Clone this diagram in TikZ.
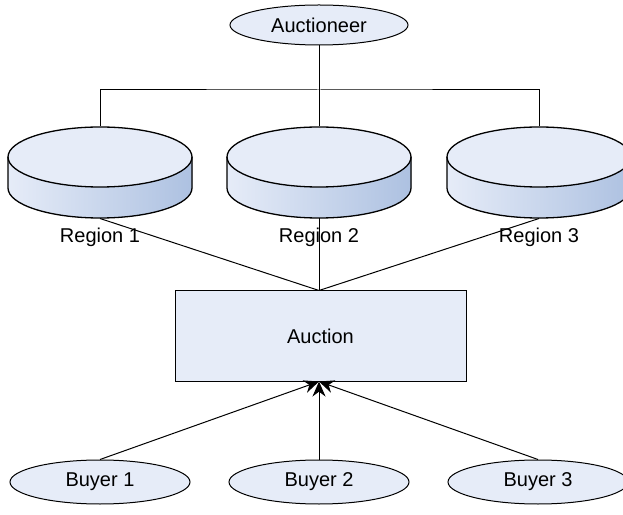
\documentclass[tikz,border=0pt]{standalone}
\usepackage{fontspec}
\setmainfont{Liberation Sans}
\usetikzlibrary{arrows.meta,shapes.geometric}
\definecolor{paleblue}{HTML}{E6ECF8}
\definecolor{sideblue}{HTML}{ADC1E1}
\begin{document}
\begin{tikzpicture}[x=1pt,y=1pt,line width=1pt,
  party/.style={ellipse, draw, fill=paleblue, inner sep=0, minimum width=180, minimum height=44, font=\fontsize{20}{24}\selectfont},
  regbox/.style={rectangle, inner sep=0, minimum width=184, minimum height=91},
  reglabel/.style={inner sep=0, font=\fontsize{20}{24}\selectfont},
  auctbox/.style={rectangle, draw, fill=paleblue, minimum width=291, minimum height=90, font=\fontsize{20}{24}\selectfont},
  bid/.style={-{Stealth[length=15pt,width=13pt]}}]
\useasboundingbox (0,0) rectangle (623,514);
% top of the tree
\node[party, minimum width=178, minimum height=40] (auct) at (319,489) {Auctioneer};
% regions as disks
\foreach \c/\i in {100/1,319/2,539/3}{
  \fill[left color=paleblue, right color=sideblue] (\c-92,357) -- (\c-92,326)
    arc[start angle=180, end angle=360, x radius=92, y radius=30] -- (\c+92,357)
    arc[start angle=360, end angle=180, x radius=92, y radius=30] -- cycle;
  \fill[paleblue] (\c,357) ellipse[x radius=92, y radius=30];
  \draw[line width=1.3pt] (\c-92,357) -- (\c-92,326)
    arc[start angle=180, end angle=360, x radius=92, y radius=30] -- (\c+92,357);
  \draw[line width=1.3pt] (\c,357) ellipse[x radius=92, y radius=30];
  \node[regbox] (reg\i) at (\c,341.5) {};
  \node[reglabel] (lab\i) at (\c,277) {Region \i};
}
\node[auctbox] (auction) at (320.5,178) {Auction};
\node[party] (buy1) at (100,32) {Buyer 1};
\node[party] (buy2) at (319,32) {Buyer 2};
\node[party] (buy3) at (538,32) {Buyer 3};
% meeting points on the auction box
\coordinate (intop) at (reg2.south |- auction.north);
\coordinate (inbot) at (reg2.south |- auction.south);
% auctioneer to regions
\coordinate (bar) at (319,424);
\draw (auct.south) -- (reg2.north);
\draw (reg1.north) |- (bar) -| (reg3.north);
% regions to auction
\draw (reg1.south) -- (intop);
\draw (reg2.south) -- (intop);
\draw (reg3.south) -- (intop);
% buyers bid
\draw[bid] (buy1.north) -- (inbot);
\draw[bid] (buy2.north) -- (inbot);
\draw[bid] (buy3.north) -- (inbot);
\end{tikzpicture}
\end{document}
